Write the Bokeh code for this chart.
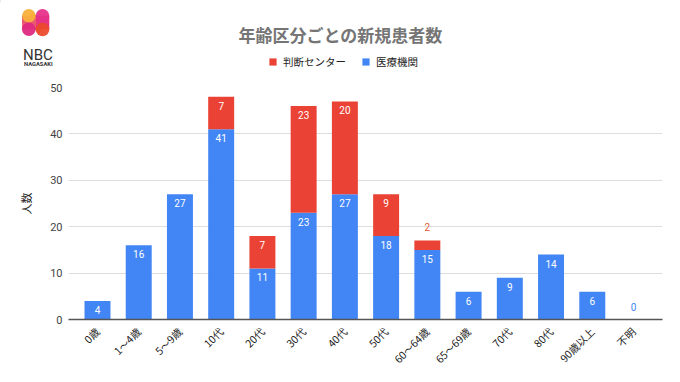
import math
from bokeh.plotting import figure
from bokeh.layouts import column
from bokeh.models import (ColumnDataSource, FactorRange, Range1d, Legend, LegendItem,
                          FixedTicker)
from bokeh.core.properties import value
from bokeh.embed import file_html
from bokeh.resources import INLINE

# ---- data ----
categories = ["0歳", "1〜4歳", "5〜9歳", "10代", "20代", "30代", "40代", "50代",
              "60〜64歳", "65〜69歳", "70代", "80代", "90歳以上", "不明"]
iryo = [4, 16, 27, 41, 11, 23, 27, 18, 15, 6, 9, 14, 6, 0]      # 医療機関
handan = [0, 0, 0, 7, 7, 23, 20, 9, 2, 0, 0, 0, 0, 0]            # 判断センター
y_ticks = [0, 10, 20, 30, 40, 50]
series_names = ["判断センター", "医療機関"]
title_text = "年齢区分ごとの新規患者数"
y_label = "人数"

BLUE = "#4285F4"
RED = "#EA4335"
JP = "Noto Sans CJK JP"

# ---------------- header: logo, title, legend ----------------
top = figure(width=680, height=80, output_backend="svg", toolbar_location=None,
             x_range=Range1d(0, 680), y_range=Range1d(80, 0),
             x_axis_location=None, y_axis_location=None,
             min_border=0, min_border_left=0, min_border_right=0,
             min_border_top=0, min_border_bottom=0)
top.frame_align = False
top.grid.visible = False
top.outline_line_color = None

# logo
top.line(x=[28.3, 42], y=[15.3, 29], line_width=11, line_color="#F08A3A")
top.quad(left=[21.5, 35.2], right=[35.1, 48.8], top=[15.3, 15.3], bottom=[29, 29],
         fill_color=["#EC5A72", "#E8357E"], line_color=None)
top.circle(x=[28.3, 42, 28.3, 42], y=[15.3, 15.3, 28.8, 29], radius=6.8,
           fill_color=["#F8B13A", "#E6318A", "#DE2A82", "#EC4A2C"], line_color=None,
           fill_alpha=0.95)
top.text(x=[22.5], y=[54.5], text=["NBC"], text_font=value("Roboto"), text_font_size="15px",
         text_color="#333333", text_baseline="alphabetic")
top.text(x=[23.5], y=[63.5], text=["NAGASAKI"], text_font=value("Roboto"),
         text_font_size="5.8px", text_font_style="bold", text_color="#333333",
         text_baseline="alphabetic")

# title
top.text(x=[340], y=[33.5], text=[title_text], text_font=value(JP), text_font_size="17px",
         text_font_style="bold", text_color="#757575", text_align="center",
         text_baseline="middle")

# legend swatches (same colours as the stacked series; the bars themselves lie off-view)
r_red = top.vbar(x=[-100], top=[1], width=1, color=RED, line_color=None)
r_blue = top.vbar(x=[-100], top=[1], width=1, color=BLUE, line_color=None)
legend = Legend(items=[LegendItem(label=series_names[0], renderers=[r_red]),
                       LegendItem(label=series_names[1], renderers=[r_blue])],
                location=(268, 11), orientation="horizontal",
                glyph_width=9, glyph_height=9, label_height=9, label_standoff=6,
                spacing=15, padding=0, margin=0, border_line_color=None,
                background_fill_alpha=0, label_text_font=JP,
                label_text_font_size="10.5px", label_text_color="#222222")
top.add_layout(legend)

# ---------------- chart ----------------
src = ColumnDataSource(dict(cat=categories, iryo=iryo, handan=handan))

p = figure(width=680, height=302, output_backend="svg", toolbar_location=None,
           x_range=FactorRange(factors=categories, range_padding=0.029),
           y_range=Range1d(0, 50),
           min_border_left=68, min_border_right=18, min_border_top=7, min_border_bottom=63)
p.frame_align = False

rs = p.vbar_stack(["iryo", "handan"], x="cat", width=0.63, color=[BLUE, RED],
                  line_color=None, source=src)

# value labels
bi_x, bi_y, bi_t = [], [], []
bo_x, bo_y, bo_t = [], [], []
ri_x, ri_y, ri_t = [], [], []
ro_x, ro_y, ro_t = [], [], []
for c, b, r in zip(categories, iryo, handan):
    if b >= 3:
        bi_x.append(c); bi_y.append(b); bi_t.append(str(b))
    else:
        bo_x.append(c); bo_y.append(b); bo_t.append(str(b))
    if r >= 3:
        ri_x.append(c); ri_y.append(b + r); ri_t.append(str(r))
    elif r > 0:
        ro_x.append(c); ro_y.append(b + r); ro_t.append(str(r))

common = dict(text_font=value("Roboto"), text_font_size="10px", text_align="center")
p.text(x=bi_x, y=bi_y, text=bi_t, text_color="white", text_baseline="top", y_offset=5, **common)
p.text(x=ri_x, y=ri_y, text=ri_t, text_color="white", text_baseline="top", y_offset=5, **common)
p.text(x=bo_x, y=bo_y, text=bo_t, text_color=BLUE, text_baseline="alphabetic", y_offset=-13, **common)
p.text(x=ro_x, y=ro_y, text=ro_t, text_color="#DD5C3C", text_baseline="alphabetic", y_offset=-14, **common)

# axes
p.yaxis.ticker = FixedTicker(ticks=y_ticks)
p.yaxis.axis_line_color = None
p.yaxis.major_tick_line_color = None
p.yaxis.major_tick_out = 0
p.yaxis.major_tick_in = 0
p.yaxis.minor_tick_line_color = None
p.yaxis.major_label_standoff = 6
p.yaxis.major_label_text_font = "Roboto"
p.yaxis.major_label_text_font_size = "11px"
p.yaxis.major_label_text_color = "#444444"
p.yaxis.axis_label = y_label
p.yaxis.axis_label_text_font = JP
p.yaxis.axis_label_text_font_size = "11px"
p.yaxis.axis_label_text_font_style = "normal"
p.yaxis.axis_label_text_color = "#222222"
p.yaxis.axis_label_standoff = 13

p.xaxis.axis_line_color = "#555555"
p.xaxis.axis_line_width = 1.5
p.xaxis.major_tick_line_color = None
p.xaxis.major_tick_out = 0
p.xaxis.major_tick_in = 0
p.xaxis.minor_tick_line_color = None
p.xaxis.major_label_orientation = math.pi / 4
p.xaxis.major_label_standoff = 10
p.xaxis.major_label_text_font = JP
p.xaxis.major_label_text_font_size = "10.5px"
p.xaxis.major_label_text_color = "#222222"

p.xgrid.grid_line_color = None
p.ygrid.grid_line_color = "#dddddd"
p.outline_line_color = None

layout = column(top, p, spacing=0)

open("out.html", "w").write(file_html(layout, INLINE))
